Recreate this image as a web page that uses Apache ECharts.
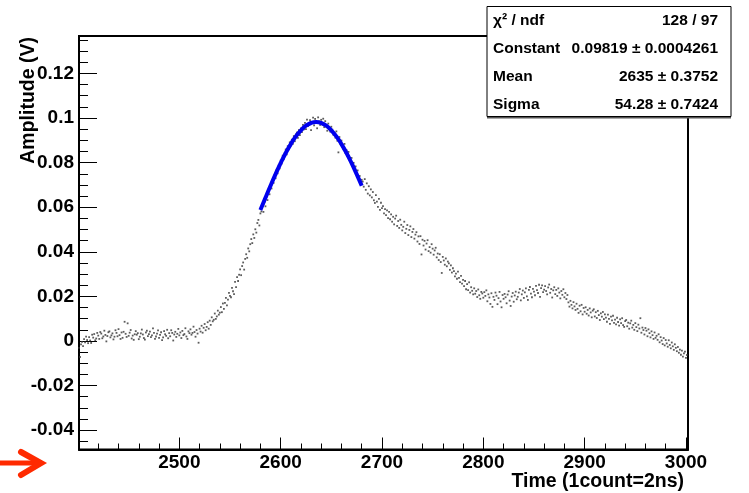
<!DOCTYPE html>
<html>
<head>
<meta charset="utf-8">
<script src="https://cdn.jsdelivr.net/npm/echarts@6/dist/echarts.min.js"></script>
<style>
  html, body { margin: 0; padding: 0; background: #fff; }
  #chart { width: 749px; height: 493px; }
</style>
</head>
<body>
<div id="chart"></div>
<script>
// one bin per count, first bin at 2401
var countStart = 2401;
// amplitude per bin, in mV
var ampMv = [
  -3.1, -7.2, -1.5, -0.4, -2.3, 0.8, -0.6, 1.9, 0.4, -1.0,
  1.7, 0.2, -0.9, 2.8, 1.5, 3.1, 0.3, 1.1, 3.6, 2.4,
  0.9, 4.0, 3.3, 1.2, 2.0, 4.6, 2.7, -0.2, 2.2, 3.9,
  4.3, 1.6, 2.5, 3.4, 0.7, 1.9, 4.8, 3.6, 2.1, 5.3,
  2.6, 0.9, 3.8, 1.4, 4.1, 8.6, 3.2, 1.8, 7.9, 2.3,
  3.7, 4.9, 1.1, 2.4, 0.5, 3.0, 4.4, 2.8, 3.5, 0.8,
  1.9, 3.4, 5.1, 2.9, 1.3, 0.6, 3.8, 4.6, 2.2, 3.1,
  4.2, 1.7, 2.5, 5.6, 3.6, 0.9, 2.0, 3.3, 4.7, 1.4,
  2.7, 3.9, 0.4, 1.6, 4.4, 3.0, 2.3, 5.0, 1.2, 3.5,
  2.1, 4.8, 3.6, 0.2, 2.9, 4.1, 1.8, 3.2, 5.4, 2.5,
  3.8, 1.3, 4.5, 2.6, 3.1, 5.7, 2.0, 0.9, 4.3, 3.5,
  5.2, 2.8, 3.6, 6.4, 4.0, 1.9, 4.9, 3.3, -0.8, 5.5,
  4.2, 6.8, 3.7, 5.9, 7.6, 4.8, 6.3, 8.4, 5.5, 9.1,
  7.2, 10.6, 8.8, 9.5, 12.3, 9.9, 11.0, 13.6, 11.8, 12.7,
  15.2, 12.9, 16.8, 14.4, 17.1, 19.3, 16.0, 18.5, 21.6, 20.2,
  19.6, 23.8, 22.3, 21.0, 26.5, 24.1, 28.6, 26.9, 29.7, 32.1,
  29.5, 33.6, 35.2, 32.0, 36.8, 38.9, 37.3, 41.5, 40.2, 43.4,
  45.7, 43.9, 47.8, 46.2, 50.1, 48.6, 52.9, 54.3, 51.8, 57.2,
  58.1, 60.6, 57.9, 62.3, 60.4, 64.7, 63.2, 66.9, 65.8, 69.6,
  68.4, 72.1, 70.9, 74.3, 73.0, 76.8, 75.2, 78.7, 77.4, 80.9,
  79.6, 83.1, 81.5, 84.2, 85.9, 83.7, 87.4, 86.0, 89.1, 87.8,
  90.3, 88.4, 91.9, 89.6, 92.7, 93.5, 91.1, 94.6, 92.3, 95.4,
  93.7, 96.9, 94.9, 97.8, 95.0, 99.3, 96.4, 97.2, 99.0, 94.6,
  98.1, 100.2, 96.7, 99.6, 97.9, 95.4, 100.3, 98.5, 96.9, 99.2,
  97.4, 99.7, 95.9, 98.6, 96.2, 94.3, 97.5, 95.6, 93.9, 96.1,
  94.8, 92.5, 93.1, 91.2, 94.0, 89.8, 84.6, 91.5, 88.3, 89.9,
  87.2, 86.0, 88.4, 84.3, 85.6, 82.9, 84.8, 81.2, 80.4, 82.1,
  78.6, 79.9, 76.7, 78.3, 74.9, 76.5, 72.8, 74.0, 70.6, 72.3,
  71.5, 69.2, 72.6, 67.8, 70.7, 66.1, 69.4, 65.3, 68.0, 64.4,
  66.8, 63.1, 61.9, 65.4, 62.5, 60.1, 63.7, 58.8, 62.0, 59.6,
  60.5, 57.2, 59.1, 56.4, 58.6, 55.1, 57.9, 54.6, 56.8, 53.5,
  55.7, 52.3, 54.9, 56.2, 51.6, 53.8, 50.7, 54.4, 52.1, 49.6,
  51.2, 53.5, 48.4, 50.3, 52.0, 47.5, 49.8, 51.4, 46.6, 48.9,
  50.2, 45.9, 47.7, 48.8, 44.6, 46.9, 43.5, 47.0, 38.8, 45.4,
  42.8, 44.9, 41.0, 43.7, 45.2, 40.3, 42.1, 39.6, 43.4, 41.4,
  38.7, 40.6, 41.8, 37.5, 39.2, 36.3, 38.9, 35.4, 30.5, 37.7,
  36.1, 34.2, 37.0, 33.5, 35.6, 34.8, 31.9, 33.9, 30.7, 32.6,
  31.3, 29.0, 30.2, 27.9, 31.1, 28.3, 26.4, 29.2, 25.7, 27.4,
  24.6, 26.9, 23.2, 25.5, 22.8, 26.3, 21.7, 24.1, 22.5, 20.9,
  23.6, 21.2, 22.4, 19.7, 23.1, 20.5, 18.9, 22.0, 21.3, 19.4,
  21.9, 20.2, 22.7, 17.8, 20.9, 19.5, 16.6, 21.4, 15.3, 19.8,
  18.4, 21.7, 20.3, 16.5, 19.2, 22.0, 17.7, 15.1, 20.6, 18.9,
  21.1, 19.6, 16.9, 20.8, 22.3, 18.1, 15.7, 19.9, 21.5, 17.6,
  20.4, 22.1, 18.7, 19.8, 21.7, 23.3, 18.2, 20.9, 22.6, 19.3,
  21.8, 23.6, 20.0, 18.4, 22.9, 24.2, 21.2, 19.6, 23.4, 22.1,
  20.5, 24.7, 22.8, 21.5, 25.2, 19.8, 23.7, 24.9, 21.9, 23.0,
  24.6, 22.4, 20.9, 24.0, 25.3, 21.6, 23.3, 19.5, 22.7, 24.1,
  21.0, 22.9, 20.2, 23.6, 21.7, 19.1, 22.4, 20.7, 23.2, 19.6,
  21.5, 18.8, 20.6, 17.3, 15.4, 18.0, 16.2, 14.6, 17.4, 15.5,
  13.9, 16.7, 14.4, 12.6, 15.8, 13.3, 16.2, 11.9, 14.8, 13.1,
  15.1, 12.2, 13.9, 11.4, 14.6, 12.8, 10.6, 13.6, 14.2, 11.0,
  12.9, 10.3, 13.5, 11.6, 9.4, 12.4, 10.9, 13.0, 9.8, 11.9,
  10.5, 8.6, 11.8, 9.9, 7.7, 10.9, 9.2, 11.3, 8.1, 9.6,
  7.4, 10.4, 8.5, 6.9, 9.7, 8.0, 10.2, 7.1, 6.3, 8.9,
  9.4, 6.6, 8.2, 5.5, 7.9, 9.1, 6.0, 7.2, 5.0, 8.0,
  6.2, 4.4, 7.3, 5.6, 10.2, 3.7, 6.0, 4.9, 2.9, 5.8,
  4.6, 2.1, 5.2, 3.5, 1.6, 4.3, 2.6, 0.9, 3.8, 1.4,
  2.3, 0.5, 3.0, -0.6, 1.7, 0.2, -1.4, 1.3, -2.0, 0.4,
  -1.1, -2.6, 0.3, -1.8, -3.3, -0.7, -2.4, -4.0, -1.5, -3.1,
  -4.6, -2.7, -5.3, -3.9, -6.2, -4.3, -7.0, -5.6, -4.8, -7.6,
  -6.3
];

// gaus fit curve points
var fitX = [2580, 2585, 2590, 2595, 2600, 2605, 2610, 2615, 2620, 2625, 2630,
            2635, 2640, 2645, 2650, 2655, 2660, 2665, 2670, 2675, 2680];
var fitY = [0.05877, 0.06425, 0.06964, 0.07484, 0.07976, 0.08429, 0.08831, 0.09175, 0.09451, 0.09654, 0.09777,
            0.09819, 0.09777, 0.09654, 0.09451, 0.09175, 0.08831, 0.08429, 0.07976, 0.07484, 0.06964];

var xMajor = [2500, 2600, 2700, 2800, 2900, 3000];
var xMinor = [2420, 2440, 2460, 2480, 2520, 2540, 2560, 2580, 2620, 2640, 2660, 2680,
              2720, 2740, 2760, 2780, 2820, 2840, 2860, 2880, 2920, 2940, 2960, 2980];
var yMajor = [-0.04, -0.02, 0, 0.02, 0.04, 0.06, 0.08, 0.1, 0.12];
var yMinor = [-0.045, -0.035, -0.03, -0.025, -0.015, -0.01, -0.005, 0.005, 0.01, 0.015,
              0.025, 0.03, 0.035, 0.045, 0.05, 0.055, 0.065, 0.07, 0.075, 0.085, 0.09, 0.095,
              0.105, 0.11, 0.115, 0.125, 0.13, 0.135];

var statNames = ['\u03c7\u00b2 / ndf', 'Constant', 'Mean', 'Sigma'];
var statValues = ['128 / 97', '0.09819 \u00b1 0.0004261', '2635 \u00b1 0.3752', '54.28 \u00b1 0.7424'];

var FONT = '"Liberation Sans", Arial, Helvetica, sans-serif';

var points = ampMv.map(function (v, i) { return [countStart + i, v / 1000]; });
var fitLine = fitX.map(function (x, i) { return [x, fitY[i]]; });

var chart = echarts.init(document.getElementById('chart'));

var xRange = { min: 2401, max: 3002 };
var yRange = { min: -0.0487, max: 0.1368 };

var statGraphics = [
  { type: 'rect', z: 100, shape: { x: 487, y: 7, width: 244, height: 111.5 },
    style: { fill: '#555', stroke: null } },
  { type: 'rect', z: 101, shape: { x: 487, y: 6.5, width: 244, height: 110 },
    style: { fill: '#fff', stroke: '#000', lineWidth: 1 } }
];
statNames.forEach(function (name, i) {
  statGraphics.push({ type: 'text', z: 102, x: 493, y: 21 + i * 28,
    style: { text: name, font: 'bold 15.5px ' + FONT, fill: '#000', textVerticalAlign: 'middle' } });
  statGraphics.push({ type: 'text', z: 102, x: 718, y: 21 + i * 28,
    style: { text: statValues[i], font: 'bold 15.5px ' + FONT, fill: '#000',
             textAlign: 'right', textVerticalAlign: 'middle' } });
});

var option = {
  animation: false,
  backgroundColor: '#fff',
  grid: {
    left: 79, right: 61, top: 36, bottom: 43.5,
    show: true, borderColor: '#000', borderWidth: 2, backgroundColor: 'transparent'
  },
  xAxis: [
    {
      type: 'value', min: xRange.min, max: xRange.max,
      axisLine: { show: true, onZero: false, lineStyle: { color: '#000', width: 2 } },
      axisTick: { show: true, inside: true, length: 12, customValues: xMajor, lineStyle: { color: '#000', width: 1 } },
      axisLabel: { customValues: xMajor, margin: 4, color: '#000', fontSize: 19, fontWeight: 'bold', fontFamily: FONT,
                   formatter: function (v) { return String(v); } },
      splitLine: { show: false }
    },
    {
      type: 'value', min: xRange.min, max: xRange.max, position: 'bottom',
      axisLine: { show: false, onZero: false },
      axisTick: { show: true, inside: true, length: 6, customValues: xMinor, lineStyle: { color: '#000', width: 1 } },
      axisLabel: { show: false },
      splitLine: { show: false }
    }
  ],
  yAxis: [
    {
      type: 'value', min: yRange.min, max: yRange.max,
      axisLine: { show: true, onZero: false, lineStyle: { color: '#000', width: 2 } },
      axisTick: { show: true, inside: true, length: 18, customValues: yMajor, lineStyle: { color: '#000', width: 1 } },
      axisLabel: { customValues: yMajor, margin: 5, color: '#000', fontSize: 19, fontWeight: 'bold', fontFamily: FONT,
                   formatter: function (v) { return String(+v.toFixed(2)); } },
      splitLine: { show: false }
    },
    {
      type: 'value', min: yRange.min, max: yRange.max, position: 'left',
      axisLine: { show: false, onZero: false },
      axisTick: { show: true, inside: true, length: 9, customValues: yMinor, lineStyle: { color: '#000', width: 1 } },
      axisLabel: { show: false },
      splitLine: { show: false }
    }
  ],
  series: [
    {
      type: 'scatter', data: points, symbol: 'rect', symbolSize: 1.8,
      itemStyle: { color: '#333' }, silent: true
    },
    {
      type: 'line', data: fitLine, smooth: true, showSymbol: false,
      lineStyle: { color: '#0000ee', width: 4 }, silent: true, z: 5
    }
  ],
  graphic: [
    { type: 'text', x: 29, y: 37, rotation: Math.PI / 2,
      style: { text: 'Amplitude (V)', font: 'bold 19.5px ' + FONT, fill: '#000',
               textAlign: 'right', textVerticalAlign: 'middle' } },
    { type: 'text', x: 684, y: 482,
      style: { text: 'Time (1count=2ns)', font: 'bold 19.5px ' + FONT, fill: '#000',
               textAlign: 'right', textVerticalAlign: 'middle' } },
    // red arrow at the bottom left
    { type: 'polyline', shape: { points: [[0, 463], [39, 463]] },
      style: { stroke: '#ff2a00', lineWidth: 5, fill: null } },
    { type: 'polyline', shape: { points: [[21, 452], [41, 463], [21, 475]] },
      style: { stroke: '#ff2a00', lineWidth: 6, fill: null, lineJoin: 'miter', lineCap: 'round' } }
  ].concat(statGraphics)
};

chart.setOption(option);
window.addEventListener('resize', function () {
  chart.resize();
});
</script>
</body>
</html>
